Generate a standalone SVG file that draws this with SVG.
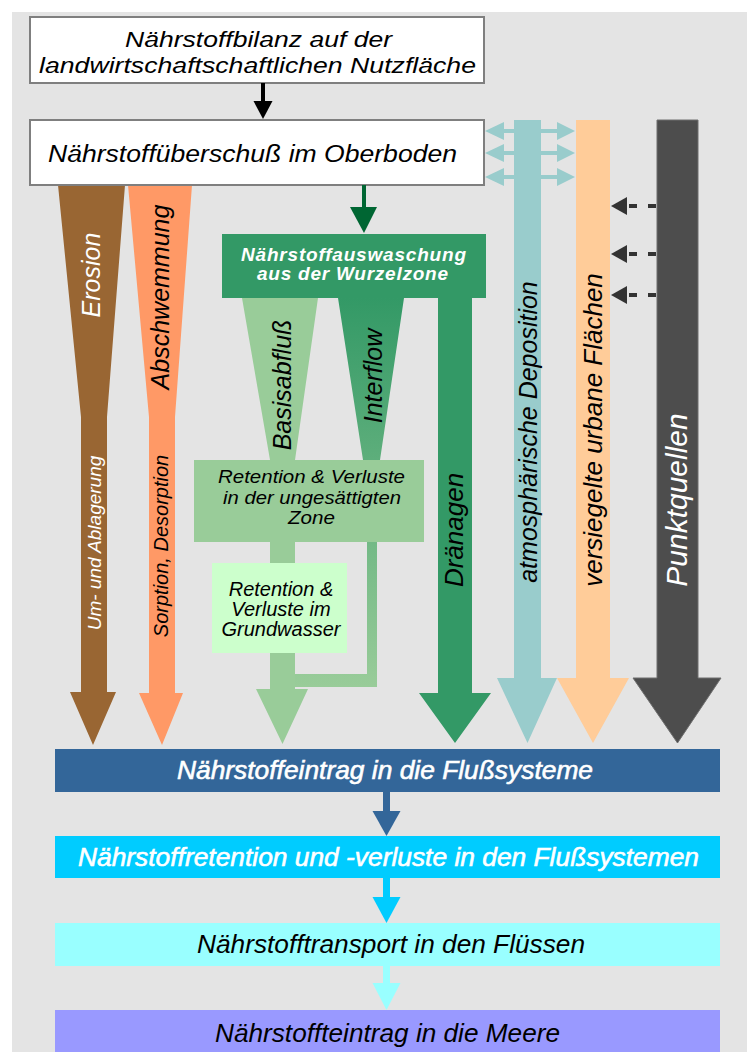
<svg xmlns="http://www.w3.org/2000/svg" width="747" height="1052" viewBox="0 0 747 1052">
<defs>
<linearGradient id="gInter" gradientUnits="userSpaceOnUse" x1="0" y1="298" x2="0" y2="687">
<stop offset="0" stop-color="#339966"/><stop offset="1" stop-color="#99cc99"/>
</linearGradient>
</defs>
<style>
text { font-family: "Liberation Sans", Arial, sans-serif; font-style: italic; }
.box { fill: #ffffff; stroke: #7f7f7f; stroke-width: 2; }
.w { fill: #ffffff; }
.k { fill: #000000; }
.wb { fill: #ffffff; stroke: #ffffff; stroke-width: 0.6; }
.mid { text-anchor: middle; }
.teal { fill: #99cccc; }
.dash { stroke: #333333; stroke-width: 4; stroke-dasharray: 8 11; fill: none; }
</style>
<rect x="12" y="12" width="735" height="1040" fill="#e4e4e4"/>

<g id="erosion">
<polygon fill="#996633" points="58,185 125,185 107,417 107,692 116,692 93,745 70,692 81,692 81,417"/>
<text class="w mid" font-size="25" transform="translate(100,275) rotate(-90)">Erosion</text>
<text class="w mid" font-size="19" transform="translate(101,543) rotate(-90)">Um- und Ablagerung</text>
</g>

<g id="abschwemmung">
<polygon fill="#ff9966" points="128,185 192,185 175,417 175,693 183,693 162,745 139,693 149,693 149,417"/>
<text class="k mid" font-size="25" transform="translate(169,297) rotate(-90)">Abschwemmung</text>
<text class="k mid" font-size="20" transform="translate(168,546) rotate(-90)">Sorption, Desorption</text>
</g>

<g id="basisabfluss">
<polygon fill="#99cc99" points="242,298 318,298 295,460 295,689 308,689 282.5,744 256,689 270,689 270,460"/>
<text class="k mid" font-size="25" transform="translate(291,385) rotate(-90)">Basisabfluß</text>
</g>

<g id="interflow">
<polygon fill="url(#gInter)" points="338,298 404,298 380,460 377,460 377,687 295,687 295,674 367,674 367,460 363,460"/>
<text class="k mid" font-size="25" transform="translate(382,376) rotate(-90)">Interflow</text>
</g>

<g id="draenagen">
<polygon fill="#339966" points="438,296 472,296 472,693 491,693 455,743 419,693 438,693"/>
<text class="k mid" font-size="26" transform="translate(463,530) rotate(-90)">Dränagen</text>
</g>

<g id="retention-ungesaettigt">
<rect x="194" y="460" width="230" height="82" fill="#99cc99"/>
<text class="k" font-size="19" x="218" y="483" textLength="187" lengthAdjust="spacingAndGlyphs">Retention &amp; Verluste</text>
<text class="k" font-size="19" x="223" y="504" textLength="178" lengthAdjust="spacingAndGlyphs">in der ungesättigten</text>
<text class="k" font-size="19" x="288" y="524" textLength="47" lengthAdjust="spacingAndGlyphs">Zone</text>
</g>

<g id="retention-grundwasser">
<rect x="212" y="563" width="135" height="90" fill="#ccffcc"/>
<text class="k mid" font-size="20" x="281" y="596">Retention &amp;</text>
<text class="k mid" font-size="20" x="281" y="616">Verluste im</text>
<text class="k mid" font-size="20" x="281" y="636">Grundwasser</text>
</g>

<g id="auswaschung">
<rect x="222" y="234" width="264" height="64" fill="#339966"/>
<text class="w" font-size="19" font-weight="bold" x="241" y="261" textLength="225">Nährstoffauswaschung</text>
<text class="w" font-size="19" font-weight="bold" x="257" y="280" textLength="191">aus der Wurzelzone</text>
</g>

<g id="deposition">
<polygon fill="#99cccc" points="514,120 541,120 541,678 557,678 527.5,743 497,678 514,678"/>
<text class="k mid" font-size="25" transform="translate(537,432) rotate(-90)">atmosphärische Deposition</text>
</g>

<g id="urbane-flaechen">
<polygon fill="#ffcc99" points="576,120 610,120 610,678 629,678 593,743 557,678 576,678"/>
<text class="k mid" font-size="26" transform="translate(602,430) rotate(-90)">versiegelte urbane Flächen</text>
</g>

<g id="punktquellen">
<polygon fill="#4d4d4d" stroke="#6e6e6e" stroke-width="1" points="657,120 698,120 698,678 721,678 677.5,743 633,678 657,678"/>
<text class="w mid" font-size="30" transform="translate(687,500) rotate(-90)">Punktquellen</text>
</g>

<g id="bilanz">
<rect class="box" x="30" y="17" width="454" height="66"/>
<text class="k" font-size="22" x="125" y="47" textLength="267" lengthAdjust="spacingAndGlyphs">Nährstoffbilanz auf der</text>
<text class="k" font-size="22" x="39" y="73" textLength="437" lengthAdjust="spacingAndGlyphs">landwirtschaftschaftlichen Nutzfläche</text>
</g>

<g id="ueberschuss">
<rect class="box" x="30" y="120" width="454" height="65"/>
<text class="k" font-size="23" x="48" y="162" textLength="409" lengthAdjust="spacingAndGlyphs">Nährstoffüberschuß im Oberboden</text>
</g>

<g id="eintrag-fluss">
<rect x="55" y="749" width="665" height="43" fill="#336699"/>
<text class="wb" font-size="26" x="177" y="779" textLength="416" lengthAdjust="spacingAndGlyphs">Nährstoffeintrag in die Flußsysteme</text>
</g>

<g id="retention-fluss">
<rect x="55" y="836" width="665" height="42" fill="#00ccff"/>
<text class="wb" font-size="26" x="78" y="866" textLength="621" lengthAdjust="spacingAndGlyphs">Nährstoffretention und -verluste in den Flußsystemen</text>
</g>

<g id="transport">
<rect x="55" y="923" width="665" height="43" fill="#99ffff"/>
<text class="k" font-size="26" x="197" y="953" textLength="388" lengthAdjust="spacingAndGlyphs">Nährstofftransport in den Flüssen</text>
</g>

<g id="meere">
<rect x="55" y="1010" width="665" height="42" fill="#9999ff"/>
<text class="k" font-size="26" x="215" y="1042" textLength="345" lengthAdjust="spacingAndGlyphs">Nährstoffteintrag in die Meere</text>
</g>

<g id="connectors">
<rect x="261" y="83" width="4" height="19" fill="#000000"/>
<polygon fill="#000000" points="253.5,101 272.5,101 263,119"/>
<rect x="362" y="185" width="4" height="23" fill="#006633"/>
<polygon fill="#006633" points="350,207 377,207 364,233"/>

<rect x="383" y="792" width="7" height="20" fill="#336699"/>
<polygon fill="#336699" points="372.5,811 400.5,811 386.5,836"/>
<rect x="383" y="878" width="7" height="20" fill="#00ccff"/>
<polygon fill="#00ccff" points="372.5,897 400.5,897 386.5,923"/>
<rect x="383" y="966" width="7" height="18" fill="#99ffff"/>
<polygon fill="#99ffff" points="372.5,983 400.5,983 386.5,1010"/>

<g class="teal">
<rect x="500" y="129" width="60" height="4"/>
<polygon points="485,131 504,122 504,140"/>
<polygon points="575,131 557,122 557,140"/>
<rect x="500" y="151" width="60" height="4"/>
<polygon points="485,153 504,144 504,162"/>
<polygon points="575,153 557,144 557,162"/>
<rect x="500" y="175" width="60" height="4"/>
<polygon points="485,177 504,168 504,186"/>
<polygon points="575,177 557,168 557,186"/>
</g>

<g fill="#333333">
<polygon points="611,206 627,197 627,215"/>
<polygon points="611,254 627,245 627,263"/>
<polygon points="611,295 627,286 627,304"/>
</g>
<line class="dash" x1="629" y1="206" x2="657" y2="206"/>
<line class="dash" x1="629" y1="254" x2="657" y2="254"/>
<line class="dash" x1="629" y1="295" x2="657" y2="295"/>
</g>
</svg>
